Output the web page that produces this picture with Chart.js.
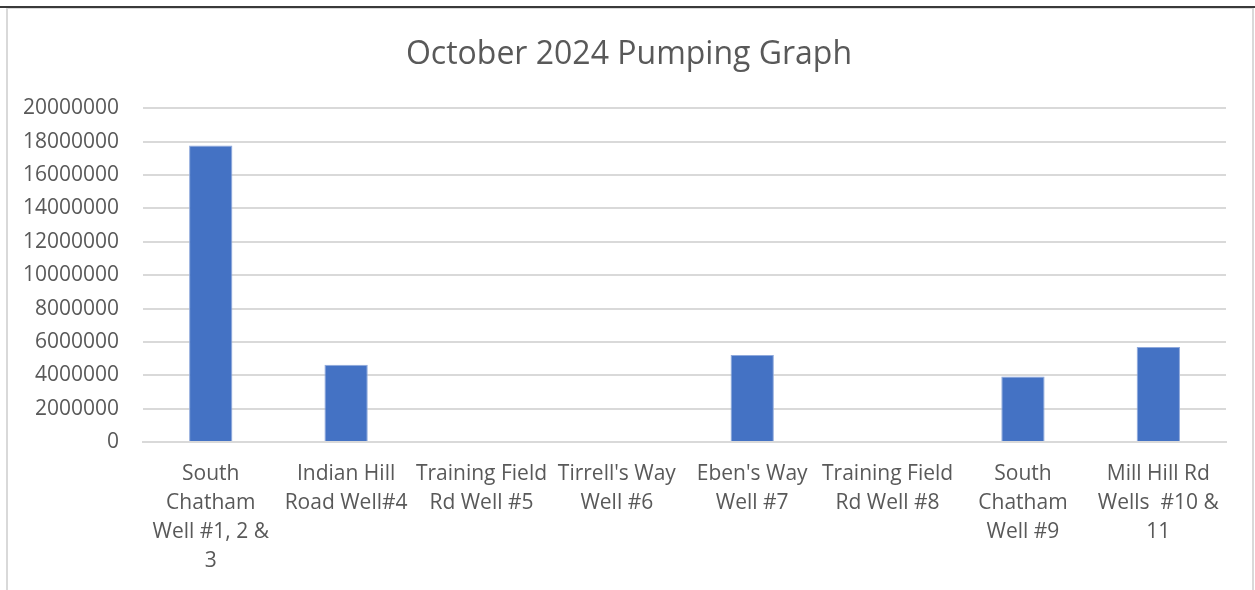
<!DOCTYPE html>
<html>
<head>
<meta charset="utf-8">
<title>October 2024 Pumping Graph</title>
<script src="https://cdn.jsdelivr.net/npm/chart.js@4.4.1/dist/chart.umd.min.js"></script>
<style>
  body { margin: 0; background: #ffffff; width: 1255px; height: 590px; overflow: hidden; position: relative; }
  .topline { position: absolute; left: 0; top: 6px; width: 1255px; height: 2px; background: #3a3a3a; }
  .box { position: absolute; left: 6px; top: 8px; width: 1244px; height: 590px; border: 2px solid #d9d9d9; border-top-width: 1px; }
  canvas { position: absolute; left: -9px; top: 0; }
</style>
</head>
<body>
<div class="topline"></div>
<div class="box">
  <canvas id="pumpingChart" width="1260" height="581"></canvas>
</div>
<script>
const wells = [
  ['South', 'Chatham', 'Well #1, 2 &', '3'],
  ['Indian Hill', 'Road Well#4'],
  ['Training Field', 'Rd Well #5'],
  ["Tirrell's Way", 'Well #6'],
  ["Eben's Way", 'Well #7'],
  ['Training Field', 'Rd Well #8'],
  ['South', 'Chatham', 'Well #9'],
  ['Mill Hill Rd', 'Wells  #10 &', '11']
];

const gallonsPumped = [17770000, 4630000, 0, 0, 5210000, 0, 3930000, 5690000];

const yTicks = [0, 2000000, 4000000, 6000000, 8000000, 10000000, 12000000, 14000000, 16000000, 18000000, 20000000];

const textColor = '#595959';
const fontFamily = "'Open Sans', 'Liberation Sans', sans-serif";

const canvas = document.getElementById('pumpingChart');

new Chart(canvas, {
  type: 'bar',
  data: {
    labels: wells,
    datasets: [{
      label: 'Pumped',
      data: gallonsPumped,
      backgroundColor: '#4472c4',
      borderColor: '#8fa9dc',
      borderWidth: { left: 1, right: 1, top: 1, bottom: 0 },
      categoryPercentage: 1,
      barPercentage: 0.32
    }]
  },
  options: {
    responsive: false,
    animation: false,
    layout: {
      padding: { left: 0, right: 0, top: 21, bottom: 4 }
    },
    plugins: {
      legend: { display: false },
      tooltip: { enabled: false },
      title: {
        display: true,
        text: 'October 2024 Pumping Graph',
        color: textColor,
        font: { family: fontFamily, size: 32, weight: 'normal' },
        padding: { top: 6, bottom: 34 }
      }
    },
    scales: {
      y: {
        min: 0,
        max: 20000000,
        afterBuildTicks: (axis) => {
          axis.ticks = yTicks.map((value) => ({ value }));
        },
        ticks: {
          color: textColor,
          font: { family: fontFamily, size: 21 },
          padding: 24,
          callback: (value) => String(value)
        },
        grid: {
          color: '#d9d9d9',
          lineWidth: 2,
          drawTicks: false
        },
        border: { display: false }
      },
      // empty right-hand margin so the title stays centred on the whole box
      spacer: {
        type: 'linear',
        position: 'right',
        grid: { display: false },
        ticks: { display: false },
        border: { display: false },
        afterFit: (scale) => {
          scale.width = 33;
        }
      },
      x: {
        ticks: {
          color: textColor,
          font: { family: fontFamily, size: 21, lineHeight: '29px' },
          padding: 10,
          maxRotation: 0,
          minRotation: 0,
          autoSkip: false
        },
        grid: { display: false },
        border: { color: '#d9d9d9', width: 2 }
      }
    }
  }
});
</script>
</body>
</html>
